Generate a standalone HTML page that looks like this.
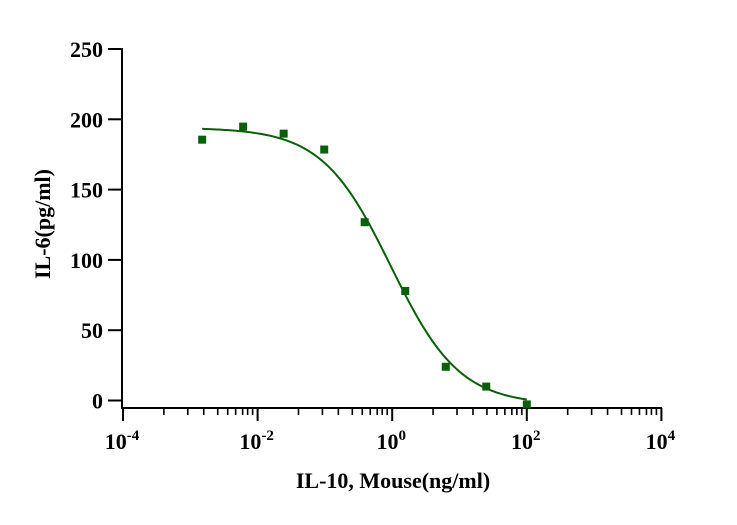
<!DOCTYPE html>
<html><head><meta charset="utf-8"><style>
body{margin:0;background:#fff;width:737px;height:520px;overflow:hidden}
svg text{font-family:"Liberation Serif",serif;font-weight:bold;fill:#000}
</style></head><body>
<svg width="737" height="520" id="chart"></svg>
<script>
const concentrations=[0.0015,0.0061,0.0244,0.0977,0.39,1.5625,6.25,25,100];
const il6Values=[185.5,194.8,189.8,178.5,126.8,77.9,24,9.9,-2.8];
const yTicks=[0,50,100,150,200,250];
const xTickExps=[-4,-2,0,2,4];
const fitTop=[194], fitBottom=[-3], fitLogEC50=[-0.02], fitHill=[0.85];
const NS="http://www.w3.org/2000/svg",svg=document.getElementById('chart');
const X0=123,DEC=67.3,Y0=400.5,YS=1.406;
const xs=v=>X0+(Math.log10(v)+4)*DEC, ys=v=>Y0-v*YS;
function el(t,a,p){const e=document.createElementNS(NS,t);for(const k in a)e.setAttribute(k,a[k]);(p||svg).appendChild(e);return e;}
const ax=el('g',{});


el('line',{x1:122,y1:48,x2:122,y2:408,stroke:'#000','stroke-width':2},ax);
el('line',{x1:121,y1:408,x2:662,y2:408,stroke:'#000','stroke-width':2},ax);
yTicks.forEach(v=>{
  el('line',{x1:108,y1:ys(v),x2:122,y2:ys(v),stroke:'#000','stroke-width':2},ax);
  const t=el('text',{x:103,y:ys(v)+8,'font-size':22,'text-anchor':'end'},ax);t.textContent=v;
  
  
});
const minorOff=[41,65,81,95,105,113,120,125,130];
xTickExps.forEach((e,i)=>{
  const x=xs(Math.pow(10,e));
  el('line',{x1:x,y1:408,x2:x,y2:421,stroke:'#000','stroke-width':2},ax);
  if(i<xTickExps.length-1) minorOff.forEach(o=>el('line',{x1:x+o*DEC/67.5,y1:408,x2:x+o*DEC/67.5,y2:415,stroke:'#000','stroke-width':1.6},ax));
  const t=el('text',{x:x-1,y:449,'font-size':22,'text-anchor':'middle'},ax);
  
  
  t.innerHTML='10<tspan dy="-9" font-size="15">'+e+'</tspan>';
});
const xt=el('text',{x:393,y:488,'font-size':22,'text-anchor':'middle'});xt.textContent='IL-10, Mouse(ng/ml)';


const yt=el('text',{x:50,y:224,'font-size':22,'text-anchor':'middle',transform:'rotate(-90 50 224)'});yt.textContent='IL-6(pg/ml)';


let d='';const lmin=Math.log10(concentrations[0]),lmax=Math.log10(concentrations[concentrations.length-1]);
for(let i=0;i<=200;i++){const l=lmin+(lmax-lmin)*i/200;const y=fitBottom[0]+(fitTop[0]-fitBottom[0])/(1+Math.pow(10,(l-fitLogEC50[0])*fitHill[0]));d+=(i?'L':'M')+xs(Math.pow(10,l)).toFixed(2)+','+ys(y).toFixed(2);}
const c=el('path',{d:d,fill:'none',stroke:'#0b5e0b','stroke-width':2});


concentrations.forEach((v,i)=>{
  const r=el('rect',{x:xs(v)-4,y:ys(il6Values[i])-4,width:8,height:8,fill:'#0b5e0b'});
  
  
});
</script>
</body></html>
